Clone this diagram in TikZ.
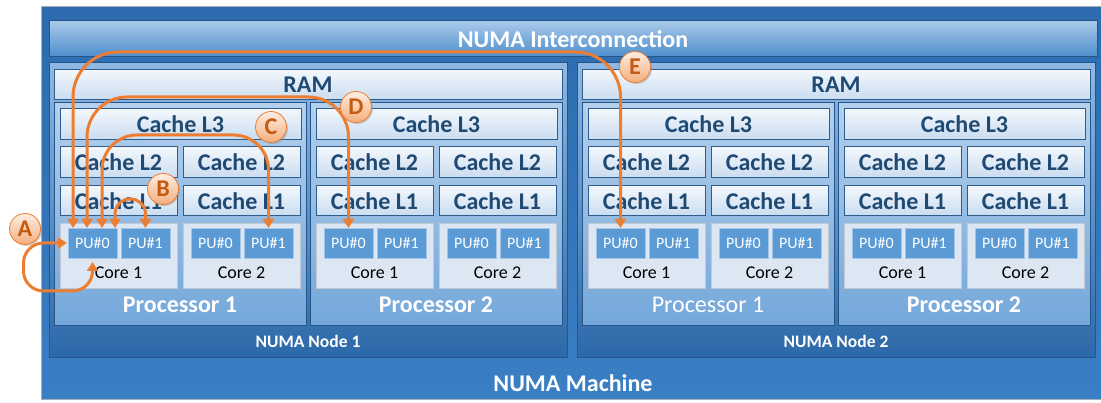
\documentclass[tikz,border=0pt]{standalone}
\usepackage{fontspec}
\setmainfont{Carlito}
\usetikzlibrary{arrows.meta,shadows}
\definecolor{machtop}{HTML}{2D6BAE}
\definecolor{machbot}{HTML}{3A7FC4}
\definecolor{machedge}{HTML}{A7AEB6}
\definecolor{bartop}{HTML}{A8CAEA}
\definecolor{barbot}{HTML}{4E8DCC}
\definecolor{deepedge}{HTML}{24568C}
\definecolor{nodetop}{HTML}{8FB9E3}
\definecolor{nodebot}{HTML}{2C68A8}
\definecolor{proctop}{HTML}{B4D0ED}
\definecolor{procbot}{HTML}{74A7DA}
\definecolor{cachetop}{HTML}{F3F7FC}
\definecolor{cachebot}{HTML}{C9DCF0}
\definecolor{cacheedge}{HTML}{2E5C8C}
\definecolor{cachetext}{HTML}{1F4A74}
\definecolor{corefill}{HTML}{DCE7F3}
\definecolor{coreedge}{HTML}{C3CAD2}
\definecolor{pufill}{HTML}{5B9BD5}
\definecolor{puedge}{HTML}{A6C5E4}
\definecolor{arrorange}{HTML}{ED7D31}
\definecolor{lbltop}{HTML}{FDEEE3}
\definecolor{lblbot}{HTML}{F4AE7C}
\definecolor{lbltext}{HTML}{C55A11}
\newcommand\fBig{\fontsize{24}{26}\selectfont\bfseries}
\newcommand\fNode{\fontsize{17.5}{20}\selectfont\bfseries}
\newcommand\fCore{\fontsize{18}{20}\selectfont}
\newcommand\fPU{\fontsize{16}{18}\selectfont}
\tikzset{
  box/.style={anchor=north west, inner sep=0pt, outer sep=0pt},
  cachebox/.style={box, draw=cacheedge, line width=1pt, top color=cachetop, bottom color=cachebot, text=cachetext, font=\fBig},
  corebox/.style={box, draw=coreedge, line width=1pt, fill=corefill},
  pubox/.style={box, draw=puedge, line width=0.8pt, fill=pufill, text=white, font=\fPU, minimum width=49pt, minimum height=30pt},
  procb/.style={box, draw=deepedge, line width=1pt, top color=proctop, bottom color=procbot},
  whitetext/.style={text=white, inner sep=0pt},
  arr/.style={draw=arrorange, line width=3pt, {Triangle[length=9pt,width=11pt]}-{Triangle[length=9pt,width=11pt]}},
  lbl/.style={circle, minimum size=31pt, inner sep=0pt, draw=arrorange, line width=0.8pt, top color=lbltop, bottom color=lblbot, text=lbltext, font=\fontsize{24}{24}\selectfont\bfseries, drop shadow={shadow xshift=1.5pt, shadow yshift=-1.5pt, opacity=0.35}}
}
% core: #1 left x, #2 name, #3 label
\newcommand\mkcore[3]{%
  \node[cachebox, minimum width=117pt, minimum height=31pt] (#2l2) at (#1,147) {Cache L2};
  \node[cachebox, minimum width=117pt, minimum height=30pt] (#2l1) at (#1,186) {Cache L1};
  \node[corebox, minimum width=117pt, minimum height=65pt] (#2) at (#1,224) {};
  \node[pubox] (#2u0) at (#1+8,228) {PU\#0};
  \node[pubox] (#2u1) at (#1+61,228) {PU\#1};
  \node[inner sep=0pt, font=\fCore] (#2lab) at (#1+58.5,273) {#3};
}
% processor: #1 left x, #2 name, #3 label, #4 weight
\newcommand\mkproc[4]{%
  \node[procb, minimum width=252pt, minimum height=223pt] (#2) at (#1,103) {};
  \node[cachebox, minimum width=241pt, minimum height=31pt] (#2l3) at (#1+6,109) {Cache L3};
  \mkcore{#1+6}{#2c1}{Core 1}
  \mkcore{#1+129}{#2c2}{Core 2}
  \node[whitetext, font=\fontsize{24}{26}\selectfont#4] (#2lab) at (#1+126,305) {#3};
}
\begin{document}
\begin{tikzpicture}[x=1pt,y=-1pt]
\useasboundingbox (0,0) rectangle (1101,403);
% machine
\node[box, draw=machedge, line width=1pt, top color=machtop, bottom color=machbot, minimum width=1080pt, minimum height=393pt] (machine) at (41,7) {};
\node[whitetext, font=\fontsize{24}{26}\selectfont\bfseries] (machlab) at (573,383) {NUMA Machine};
% interconnection
\node[box, draw=deepedge, line width=1pt, top color=bartop, bottom color=barbot, minimum width=1048pt, minimum height=36pt, text=white, font=\fontsize{24}{26}\selectfont\bfseries] (inter) at (49,21) {NUMA Interconnection};
% numa nodes
\node[box, draw=deepedge, line width=1pt, top color=nodetop, bottom color=nodebot, minimum width=518pt, minimum height=295pt] (node1) at (49,63) {};
\node[box, draw=deepedge, line width=1pt, top color=nodetop, bottom color=nodebot, minimum width=518pt, minimum height=295pt] (node2) at (577,63) {};
\node[whitetext, font=\fNode] (node1lab) at (308,341) {NUMA Node 1};
\node[whitetext, font=\fNode] (node2lab) at (836,341) {NUMA Node 2};
\node[cachebox, minimum width=508pt, minimum height=30pt] (ram1) at (54,70) {RAM};
\node[cachebox, minimum width=508pt, minimum height=30pt] (ram2) at (582,70) {RAM};
\mkproc{54}{n1p1}{Processor 1}{\bfseries}
\mkproc{310}{n1p2}{Processor 2}{\bfseries}
\mkproc{582}{n2p1}{Processor 1}{}
\mkproc{838}{n2p2}{Processor 2}{\bfseries}
% arrows
\draw[arr, rounded corners=45pt] ([xshift=-19.5pt]n1p1c1u0.north) -- ++(0,-176) -| (n2p1c1u0.north);
\draw[arr, rounded corners=40pt] ([xshift=-5.5pt]n1p1c1u0.north) -- ++(0,-131) -| (n1p2c1u0.north);
\draw[arr, rounded corners=35pt] ([xshift=9.5pt]n1p1c1u0.north) -- ++(0,-93) -| (n1p1c2u1.north);
\draw[arr, rounded corners=15pt] ([xshift=22.5pt]n1p1c1u0.north) -- ++(0,-29) -| (n1p1c1u1.north);
\draw[arr, rounded corners=20pt] ([yshift=-4pt]n1p1c1u0.south) -- ++(0,29) -- ++(-69,0) -- ++(0,-48) -- ([xshift=-1pt]n1p1c1u0.west);
% labels
\node[lbl] (la) at (25,229) {A};
\node[lbl] (lb) at (163,189) {B};
\node[lbl] (lc) at (271,127) {C};
\node[lbl] (ld) at (356,107) {D};
\node[lbl] (le) at (635,67) {E};
\end{tikzpicture}
\end{document}
